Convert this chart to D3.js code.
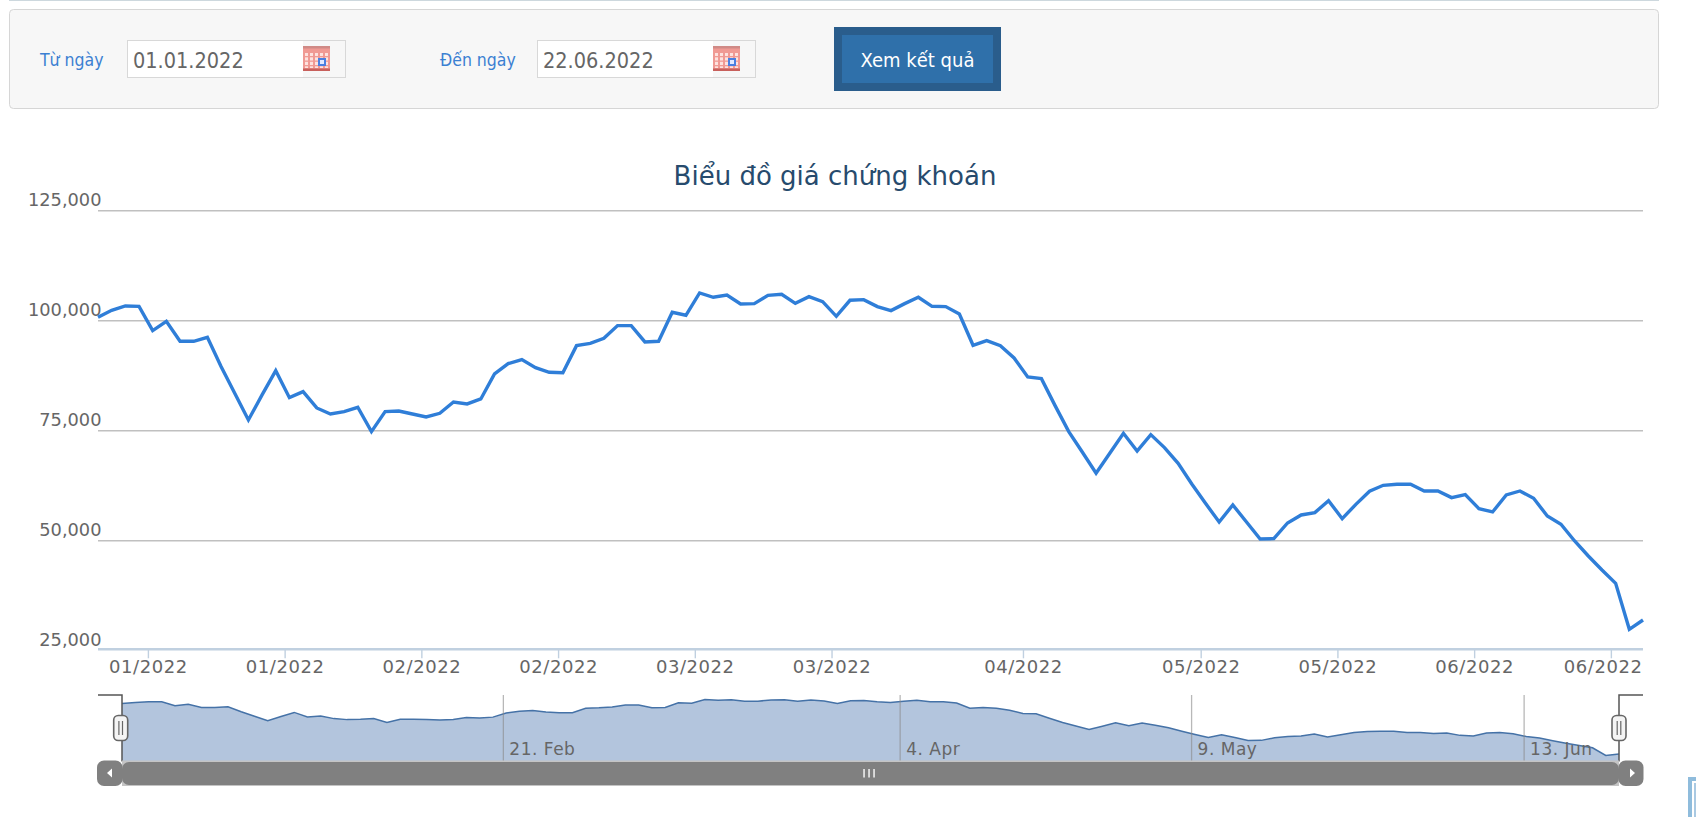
<!DOCTYPE html>
<html lang="vi">
<head>
<meta charset="utf-8">
<title>Biểu đồ giá chứng khoán</title>
<script src="https://cdn.jsdelivr.net/npm/d3@7/dist/d3.min.js"></script>
<style>
html,body{margin:0;padding:0;background:#fff;overflow:hidden}
svg{display:block}
text{font-family:"DejaVu Sans",sans-serif}
.form text{font-family:"DejaVu Sans Condensed","DejaVu Sans",sans-serif;font-stretch:condensed}
</style>
</head>
<body>
<svg id="c" width="1696" height="817"></svg>
<script>
// ---- data ----
const prices = [100680,102270,103260,103180,97650,99770,95230,95230,96140,89480,83400,77350,83040,88560,82420,83790,80080,78710,79240,80230,74700,79240,79390,78710,78030,78860,81440,80990,82120,87800,90150,91060,89240,88180,88100,94240,94770,95910,98790,98790,95080,95230,101820,101140,106210,105230,105760,103710,103790,105680,105910,103860,105380,104240,100910,104550,104700,103110,102200,103790,105230,103180,103110,101440,94320,95380,94240,91440,87120,86740,80610,74700,70000,65230,69770,74320,70300,74020,71060,67500,62800,58410,54170,58030,54170,50300,50380,53940,55760,56290,59020,54920,58170,61140,62500,62730,62730,61210,61210,59700,60380,57200,56440,60300,61210,59550,55530,53640,49850,46440,43260,40230,29770,31890];
const yTicks = [25000,50000,75000,100000,125000];
const xTickIndex = [3.65,13.65,23.65,33.65,43.65,53.65,67.65,80.65,90.65,100.65,110.65];
const xTickLabels = ["01/2022","01/2022","02/2022","02/2022","03/2022","03/2022","04/2022","05/2022","05/2022","06/2022","06/2022"];
const navIndex = [28.75,58.7,80.7,105.8];
const navLabels = ["21. Feb","4. Apr","9. May","13. Jun"];
const titleText = "Biểu đồ giá chứng khoán";
const fromLabel = "Từ ngày", toLabel = "Đến ngày", fromDate = "01.01.2022", toDate = "22.06.2022", buttonText = "Xem kết quả";

// ---- layout ----
const L = 98, R = 1643, T = 210.3, B = 650.3;
const navL = 122, navR = 1619, navT = 695, navB = 761.5;
const grey = "#666666";
const svg = d3.select("#c");
const idx = prices.map((_, i) => i);

// ---- top rule and form panel ----
svg.append("rect").attr("x",9).attr("y",0).attr("width",1650).attr("height",1).attr("fill","#cdd8de");
const form = svg.append("g").attr("class","form");
form.append("rect").attr("x",9.5).attr("y",9.5).attr("width",1649).attr("height",99)
  .attr("rx",4).attr("fill","#f7f7f7").attr("stroke","#d6d6d6");

function dateField(x, labelX, label, value){
  form.append("text").attr("x",labelX).attr("y",66).attr("font-size",17.5).attr("fill","#3b80d2").text(label);
  form.append("rect").attr("x",x+.5).attr("y",40.5).attr("width",218).attr("height",37).attr("fill","#f7f7f7").attr("stroke","#d8d8d8");
  form.append("rect").attr("x",x+1).attr("y",41).attr("width",175).attr("height",36).attr("fill","#fff");
  form.append("text").attr("x",x+6).attr("y",68).attr("font-size",21.5).attr("fill",grey).text(value);
  const ic = form.append("g").attr("transform",`translate(${x+176},46)`);
  ic.append("rect").attr("width",27).attr("height",25).attr("fill","#f09a94");
  ic.append("rect").attr("y",0).attr("width",27).attr("height",2.5).attr("fill","#d08a86");
  ic.append("rect").attr("y",22.5).attr("width",27).attr("height",2.5).attr("fill","#c8605c");
  d3.range(5).forEach(i=>{
    ic.append("rect").attr("x",2+i*5).attr("y",7).attr("width",3).attr("height",15).attr("fill","#fde2df");
  });
  d3.range(3).forEach(i=>{
    ic.append("rect").attr("x",1).attr("y",10+i*4.5).attr("width",25).attr("height",1.3).attr("fill","#f09a94");
  });
  ic.append("rect").attr("x",16).attr("y",13).attr("width",6).attr("height",6).attr("fill","#dfe8ff").attr("stroke","#4a7fe0").attr("stroke-width",2);
}
dateField(127,40,fromLabel,fromDate);
dateField(537,440,toLabel,toDate);
form.append("rect").attr("x",834).attr("y",27).attr("width",167).attr("height",64).attr("fill","#2a5d8c");
form.append("rect").attr("x",842).attr("y",35).attr("width",151).attr("height",48).attr("fill","#2f70aa");
form.append("text").attr("x",917.5).attr("y",67).attr("text-anchor","middle").attr("font-size",20).attr("fill","#fff").text(buttonText);

// ---- title ----
svg.append("text").attr("x",835).attr("y",185).attr("text-anchor","middle")
  .attr("font-size",26).attr("fill","#274b6d").text(titleText);

// ---- main scales ----
const x = d3.scaleLinear().domain([0, prices.length-1]).range([L, R]);
const y = d3.scaleLinear().domain([25000,125000]).range([B, T]);

// y axis: gridlines with labels sitting above the lines
const yAxis = d3.axisLeft(y).tickValues(yTicks).tickSize(-(R-L)).tickFormat(d3.format(","));
const gy = svg.append("g").attr("transform",`translate(${L},0)`).call(yAxis);
gy.select(".domain").remove();
gy.selectAll(".tick line").attr("stroke",d=>d===25000?"none":"#c0c0c0").attr("stroke-width",1.6);
gy.selectAll(".tick text").attr("x",3.5).attr("dy",0).attr("y",-5).attr("text-anchor","end")
  .attr("font-size",17.8).attr("fill",grey).style("font-family",'"DejaVu Sans"');

// x axis
const xAxis = d3.axisBottom(x).tickValues(xTickIndex).tickSize(9).tickFormat((d,i)=>xTickLabels[i]);
const gx = svg.append("g").attr("transform",`translate(0,${B-1})`).call(xAxis);
gx.select(".domain").attr("stroke","#c0d0e0").attr("stroke-width",2.4).attr("d",`M${L},0H${R}`);
gx.selectAll(".tick line").attr("stroke","#c0d0e0").attr("stroke-width",1.4);
gx.selectAll(".tick text").attr("y",24).attr("dy",0).attr("font-size",18).attr("fill",grey)
  .attr("letter-spacing",0.55).style("font-family",'"DejaVu Sans"')
  .attr("text-anchor",(d,i)=>i===xTickIndex.length-1?"end":"middle")
  .attr("dx",(d,i)=>i===xTickIndex.length-1?R-1-x(d):0);

// price line
svg.append("path").datum(idx).attr("fill","none").attr("stroke","#2f7ed8").attr("stroke-width",3.4)
  .attr("stroke-linejoin","miter")
  .attr("d",d3.line().x(i=>x(i)).y(i=>y(prices[i])));

// ---- navigator ----
const nx = d3.scaleLinear().domain([0, prices.length-1]).range([navL, navR]);
const ny = d3.scaleLinear().domain([21500,112350]).range([navB, navT]);
svg.append("path").datum(idx).attr("fill","#b3c5dd")
  .attr("d",d3.area().x(i=>nx(i)).y0(navB).y1(i=>ny(prices[i])));
svg.append("path").datum(idx).attr("fill","none").attr("stroke","#4572a7").attr("stroke-width",1.5)
  .attr("d",d3.line().x(i=>nx(i)).y(i=>ny(prices[i])));

const gn = svg.append("g").attr("transform",`translate(0,${navB})`)
  .call(d3.axisBottom(nx).tickValues(navIndex).tickSize(-(navB-navT)).tickFormat((d,i)=>navLabels[i]));
gn.select(".domain").remove();
gn.selectAll(".tick line").attr("stroke","#888").attr("stroke-opacity",.6).attr("stroke-width",1.3);
gn.selectAll(".tick text").attr("x",6).attr("y",-7).attr("dy",0).attr("text-anchor","start")
  .attr("font-size",17).attr("fill",grey).attr("letter-spacing",0.5).style("font-family",'"DejaVu Sans"');

// mask outline
svg.append("path").attr("fill","none").attr("stroke","#555").attr("stroke-width",1.5)
  .attr("d",`M${L},${navT}H${navL}V${navB}M${navR},${navB}V${navT}H${R}`);
[[navL,-1.3],[navR,0]].forEach(([hx,off])=>{
  const h = svg.append("g").attr("transform",`translate(${hx+off},0)`);
  h.append("rect").attr("x",-7).attr("y",715.5).attr("width",14).attr("height",25).attr("rx",4.5)
    .attr("fill","#f4f4f4").attr("stroke","#666").attr("stroke-width",1.6);
  [-1.8,1.8].forEach(d=>h.append("line").attr("x1",d).attr("x2",d).attr("y1",721).attr("y2",735).attr("stroke","#666").attr("stroke-width",1.2));
});

// scrollbar
svg.append("rect").attr("x",navL).attr("y",760.5).attr("width",navR-navL).attr("height",25.5).attr("fill","#c4c4c4");
svg.append("rect").attr("x",navL).attr("y",762).attr("width",navR-navL).attr("height",23).attr("rx",7).attr("fill","#808080");
svg.append("rect").attr("x",97).attr("y",760.5).attr("width",25.5).attr("height",25.5).attr("rx",7).attr("fill","#808080");
svg.append("rect").attr("x",1618.5).attr("y",760.5).attr("width",25).attr("height",25.5).attr("rx",7).attr("fill","#808080");
svg.append("path").attr("fill","#fff").attr("d","M107,773l5,-4.5v9z");
svg.append("path").attr("fill","#fff").attr("d","M1635,773l-5,-4.5v9z");
[864,869,874].forEach(gx0=>svg.append("rect").attr("x",gx0-.8).attr("y",769).attr("width",1.7).attr("height",8.5).attr("fill","#e6e6e6"));

// clipped widget in the bottom right corner
svg.append("rect").attr("x",1690).attr("y",779).attr("width",10).attr("height",50).attr("fill","#fff").attr("stroke","#8fbcdc").attr("stroke-width",4);
svg.append("rect").attr("x",1694).attr("y",783).attr("width",6).attr("height",40).attr("fill","#a9c9e2");
</script>
</body>
</html>
